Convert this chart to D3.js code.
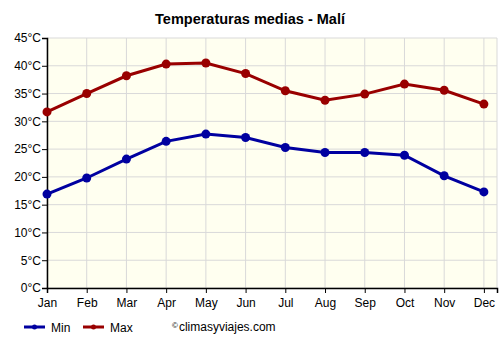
<!DOCTYPE html>
<html>
<head>
<meta charset="utf-8">
<script src="https://cdn.jsdelivr.net/npm/d3@7/dist/d3.min.js"></script>
<style>
  body { margin: 0; background: #fff; }
  text { font-family: Arial, "Liberation Sans", sans-serif; }
</style>
</head>
<body>
<div id="chart-area"></div>
<script>
var months = ["Jan", "Feb", "Mar", "Apr", "May", "Jun", "Jul", "Aug", "Sep", "Oct", "Nov", "Dec"];
var minTemps = [16.9, 19.8, 23.2, 26.4, 27.7, 27.1, 25.3, 24.4, 24.4, 23.9, 20.2, 17.3];
var maxTemps = [31.7, 35.0, 38.2, 40.3, 40.5, 38.6, 35.5, 33.8, 34.9, 36.7, 35.6, 33.1];
var yTicks = [0, 5, 10, 15, 20, 25, 30, 35, 40, 45];

var margin = { top: 38, right: 3, bottom: 62, left: 47 };
var width = 500 - margin.left - margin.right;
var height = 350 - margin.top - margin.bottom;

var svg = d3.select("#chart-area").append("svg")
    .attr("width", 500)
    .attr("height", 350);

var g = svg.append("g")
    .attr("transform", "translate(" + margin.left + ", " + margin.top + ")");

// month index -> x, with some room after Dec
var x = d3.scaleLinear()
    .domain([0, 11.33])
    .range([0, width]);

var y = d3.scaleLinear()
    .domain([0, 45])
    .range([height, 0]);

g.append("rect")
    .attr("width", width)
    .attr("height", height)
    .attr("fill", "#fffff0");

// grid
g.selectAll(".hgrid").data(yTicks).enter().append("line")
    .attr("x1", 0).attr("x2", width)
    .attr("y1", (d) => y(d)).attr("y2", (d) => y(d))
    .attr("stroke", "#d9d9d9");

g.selectAll(".vgrid").data(months).enter().append("line")
    .attr("x1", (d, i) => x(i)).attr("x2", (d, i) => x(i))
    .attr("y1", 0).attr("y2", height)
    .attr("stroke", "#d9d9d9");

g.append("line")
    .attr("x1", width).attr("x2", width)
    .attr("y1", 0).attr("y2", height)
    .attr("stroke", "#d9d9d9");

// axes
var yAxisCall = d3.axisLeft(y)
    .tickValues(yTicks)
    .tickSize(5)
    .tickFormat((d) => d + "°C");
var yAxisGroup = g.append("g").call(yAxisCall);

var xAxisCall = d3.axisBottom(x)
    .tickValues(d3.range(12))
    .tickSize(5)
    .tickFormat((d) => months[d]);
var xAxisGroup = g.append("g")
    .attr("transform", "translate(0," + height + ")")
    .call(xAxisCall);

[yAxisGroup, xAxisGroup].forEach((ax) => {
    ax.select(".domain").attr("stroke", "#000").attr("stroke-width", 1.5);
    ax.selectAll(".tick line").attr("stroke", "#000");
    ax.selectAll(".tick text")
        .attr("font-size", "12px")
        .attr("font-family", "Arial, 'Liberation Sans', sans-serif")
        .attr("fill", "#000");
});
xAxisGroup.selectAll(".tick text").attr("dy", "0.9em");
yAxisGroup.selectAll(".tick text").attr("x", -6);

// series
var series = [
    { name: "Min", values: minTemps, color: "#0000a0" },
    { name: "Max", values: maxTemps, color: "#990000" }
];

var line = d3.line()
    .x((d, i) => x(i))
    .y((d) => y(d));

series.forEach((s) => {
    g.append("path")
        .datum(s.values)
        .attr("d", line)
        .attr("fill", "none")
        .attr("stroke", s.color)
        .attr("stroke-width", 3);

    g.selectAll(".pt-" + s.name).data(s.values).enter().append("circle")
        .attr("cx", (d, i) => x(i))
        .attr("cy", (d) => y(d))
        .attr("r", 4.5)
        .attr("fill", s.color);
});

// title
svg.append("text")
    .attr("x", 250)
    .attr("y", 24)
    .attr("text-anchor", "middle")
    .attr("font-size", "14.5px")
    .attr("font-weight", "bold")
    .text("Temperaturas medias - Malí");

// legend
var legend = svg.append("g").attr("transform", "translate(24, 327)");
series.forEach((s, i) => {
    var lg = legend.append("g").attr("transform", "translate(" + (i * 59) + ",0)");
    lg.append("line")
        .attr("x1", 0).attr("x2", 21)
        .attr("stroke", s.color).attr("stroke-width", 3);
    lg.append("circle")
        .attr("cx", 10.5).attr("r", 2.5).attr("fill", s.color);
    lg.append("text")
        .attr("x", 27).attr("y", 4.5)
        .attr("font-size", "12px")
        .text(s.name);
});

var credit = svg.append("text")
    .attr("x", 172)
    .attr("y", 331)
    .attr("font-size", "12px");
credit.append("tspan")
    .attr("font-size", "8px")
    .attr("dy", "-3")
    .text("©");
credit.append("tspan")
    .attr("dy", "3")
    .attr("dx", "1")
    .text("climasyviajes.com");
</script>
</body>
</html>
